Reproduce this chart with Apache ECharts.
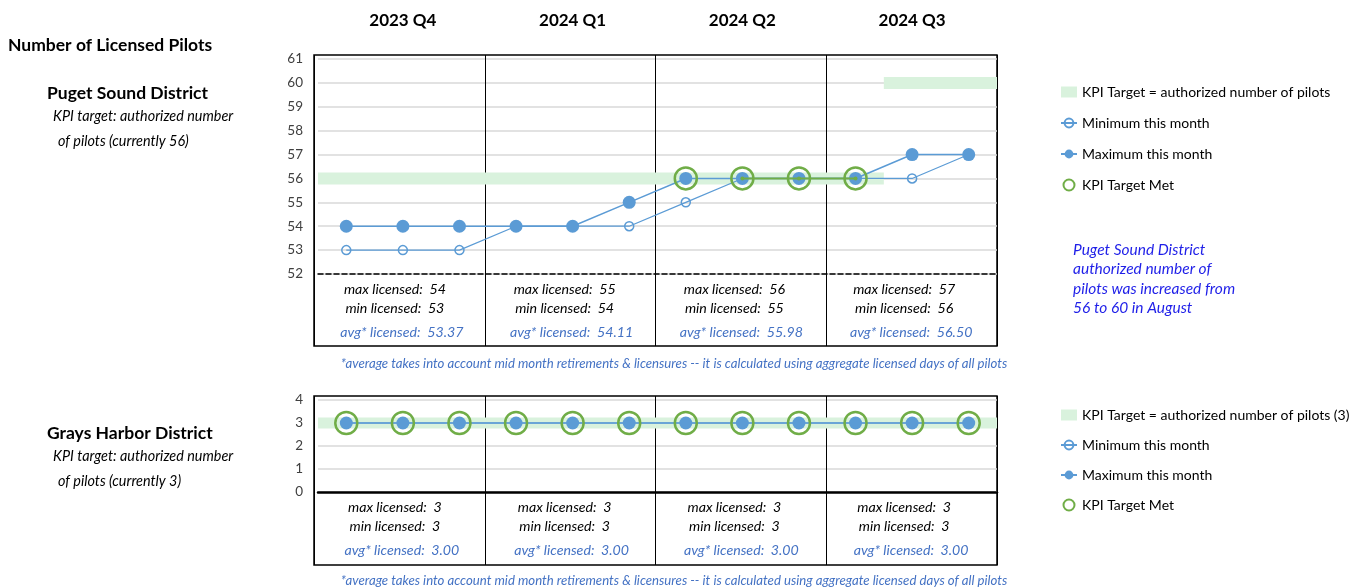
<!DOCTYPE html>
<html><head><meta charset="utf-8">
<script src="https://cdn.jsdelivr.net/npm/echarts@6/dist/echarts.min.js"></script>
<style>html,body{margin:0;padding:0;background:#fff}#c{width:1354px;height:588px}</style>
</head><body><div id="c"></div>
<script>
// ---------- DATA ----------
const months = ['Oct','Nov','Dec','Jan','Feb','Mar','Apr','May','Jun','Jul','Aug','Sep'];
const quarters = ['2023 Q4','2024 Q1','2024 Q2','2024 Q3'];

// Puget Sound District
const psMin = [53,53,53,54,54,54,55,56,56,56,56,57];
const psMax = [54,54,54,54,54,55,56,56,56,56,57,57];
const psTarget = [56,56,56,56,56,56,56,56,56,56,60,60];
const psMet = [null,null,null,null,null,null,56,56,56,56,null,null];
const psMetLine = [null,null,null,null,null,null,null,56,56,56,null,null];
const psQMax = [54,55,56,57];
const psQMin = [53,54,55,56];
const psQAvg = ['53.37','54.11','55.98','56.50'];
const psYMin = 52, psYMax = 61;

// Grays Harbor District
const ghMin = [3,3,3,3,3,3,3,3,3,3,3,3];
const ghMax = [3,3,3,3,3,3,3,3,3,3,3,3];
const ghTarget = [3,3,3,3,3,3,3,3,3,3,3,3];
const ghMet = [3,3,3,3,3,3,3,3,3,3,3,3];
const ghQMax = [3,3,3,3];
const ghQMin = [3,3,3,3];
const ghQAvg = ['3.00','3.00','3.00','3.00'];
const ghYMin = 0, ghYMax = 4;

// ---------- STYLE ----------
const FONT = 'Lato, "Open Sans", sans-serif';
const BLUE = '#5b9bd5';
const GREEN = '#70ad47';
const BAND = '#d9f2dd';
const AVG = '#4472c4';
const GRID = '#d9d9d9';
const NOFILL = 'rgba(255,255,255,0)';

const pts = arr => arr.map((v, i) => [i + 0.5, v == null ? '-' : v]);
const bandPts = arr => {
  const out = [];
  arr.forEach((v, i) => {
    if (i > 0 && v !== arr[i - 1]) out.push([i, '-']);
    out.push([i, v], [i + 1, v]);
  });
  return out;
};

const summaryFmt = (qMax, qMin, qAvg) => (val, idx) =>
  `{m|max licensed:  ${qMax[idx]}}\n{m|min licensed:  ${qMin[idx]}}\n{a|avg* licensed:  ${qAvg[idx]}}`;
const summaryRich = {
  m: {fontStyle:'italic', fontSize:14.2, color:'#000', lineHeight:19, fontFamily:FONT, padding:[0,16,0,0]},
  a: {fontStyle:'italic', fontSize:14.2, color:AVG, lineHeight:29, fontFamily:FONT, padding:[0,2,0,0]}
};

const PL = 318, PW = 679, FL = 314, FW = 683;
const legendText = {fontSize:14, color:'#000', fontFamily:FONT};
const footnote = '*average takes into account mid month retirements & licensures -- it is calculated using aggregate licensed days of all pilots';

const option = {
  animation:false,
  backgroundColor:'#fff',
  textStyle:{fontFamily:FONT},
  grid:[
    {left:PL, width:PW, top:59, height:215},
    {left:FL, width:FW, top:55, height:291, show:true, borderColor:'#000', borderWidth:1.5},
    {left:PL, width:PW, top:400, height:92},
    {left:FL, width:FW, top:396, height:169, show:true, borderColor:'#000', borderWidth:1.5}
  ],
  xAxis:[
    {gridIndex:0, type:'value', min:0, max:12, interval:1, position:'bottom',
     axisLine:{show:true, onZero:false, lineStyle:{color:'#000', width:1.5, type:[5,3]}},
     axisTick:{show:false}, axisLabel:{show:false}, splitLine:{show:false}},
    {gridIndex:0, type:'category', data:quarters, position:'bottom', boundaryGap:true,
     axisLine:{show:false, onZero:false}, axisTick:{show:false}, splitLine:{show:false},
     axisLabel:{interval:0, margin:6, verticalAlign:'top', formatter:summaryFmt(psQMax, psQMin, psQAvg), rich:summaryRich}},
    {gridIndex:0, type:'category', data:quarters, position:'top', boundaryGap:true,
     axisLine:{show:false, onZero:false}, axisTick:{show:false}, splitLine:{show:false},
     axisLabel:{interval:0, margin:30, fontSize:17, fontWeight:'bold', color:'#000', fontFamily:FONT}},
    {gridIndex:1, type:'value', min:0, max:12, interval:3,
     axisLine:{show:false}, axisTick:{show:false}, axisLabel:{show:false},
     splitLine:{show:true, lineStyle:{color:'#000', width:1}}},
    {gridIndex:2, type:'value', min:0, max:12, interval:1, position:'bottom',
     axisLine:{show:true, onZero:false, lineStyle:{color:'#000', width:2.5}},
     axisTick:{show:false}, axisLabel:{show:false}, splitLine:{show:false}},
    {gridIndex:2, type:'category', data:quarters, position:'bottom', boundaryGap:true,
     axisLine:{show:false, onZero:false}, axisTick:{show:false}, splitLine:{show:false},
     axisLabel:{interval:0, margin:6, verticalAlign:'top', formatter:summaryFmt(ghQMax, ghQMin, ghQAvg), rich:summaryRich}},
    {gridIndex:3, type:'value', min:0, max:12, interval:3,
     axisLine:{show:false}, axisTick:{show:false}, axisLabel:{show:false},
     splitLine:{show:true, lineStyle:{color:'#000', width:1}}}
  ],
  yAxis:[
    {gridIndex:0, type:'value', min:psYMin, max:psYMax, interval:1,
     axisLine:{show:false}, axisTick:{show:false},
     axisLabel:{margin:15, fontSize:13.5, color:'#404040', fontFamily:FONT},
     splitLine:{show:true, lineStyle:{color:GRID, width:1.5}}},
    {gridIndex:1, type:'value', min:0, max:1, show:false},
    {gridIndex:2, type:'value', min:ghYMin, max:ghYMax, interval:1,
     axisLine:{show:false}, axisTick:{show:false},
     axisLabel:{margin:15, fontSize:13.5, color:'#404040', fontFamily:FONT},
     splitLine:{show:true, lineStyle:{color:GRID, width:1.5}}},
    {gridIndex:3, type:'value', min:0, max:1, show:false}
  ],
  legend:[
    {orient:'vertical', left:1060, top:85, padding:0, itemWidth:16, itemHeight:11, itemGap:17, selectedMode:false,
     textStyle:legendText,
     data:[{name:'KPI Target = authorized number of pilots', icon:'rect'}, 'Minimum this month', 'Maximum this month', {name:'KPI Target Met', icon:'circle'}]},
    {orient:'vertical', left:1060, top:408, padding:0, itemWidth:16, itemHeight:11, itemGap:16, selectedMode:false,
     textStyle:legendText,
     data:[{name:'KPI Target = authorized number of pilots (3)', icon:'rect'}, 'Minimum this month', 'Maximum this month', {name:'KPI Target Met', icon:'circle'}]}
  ],
  graphic:[
    {type:'text', left:8, top:36, style:{text:'Number of Licensed Pilots', font:'bold 17.5px '+FONT, fill:'#000'}},
    {type:'text', left:47, top:84, style:{text:'Puget Sound District', font:'bold 17.5px '+FONT, fill:'#000'}},
    {type:'text', left:53, top:109, style:{text:'KPI target: authorized number', font:'italic 14.4px '+FONT, fill:'#000'}},
    {type:'text', left:58, top:134, style:{text:'of pilots (currently 56)', font:'italic 14.4px '+FONT, fill:'#000'}},
    {type:'text', left:47, top:424, style:{text:'Grays Harbor District', font:'bold 17.5px '+FONT, fill:'#000'}},
    {type:'text', left:53, top:449, style:{text:'KPI target: authorized number', font:'italic 14.4px '+FONT, fill:'#000'}},
    {type:'text', left:58, top:474, style:{text:'of pilots (currently 3)', font:'italic 14.4px '+FONT, fill:'#000'}},
    {type:'text', left:1073, top:240, style:{text:'Puget Sound District\nauthorized number of\npilots was increased from\n56 to 60 in August', font:'italic 15.5px '+FONT, lineHeight:19.5, fill:'#1f1fe8'}},
    {type:'text', x:674, y:364, style:{text:footnote, font:'italic 13.2px '+FONT, fill:AVG, align:'center', verticalAlign:'middle'}},
    {type:'text', x:674, y:581, style:{text:footnote, font:'italic 13.2px '+FONT, fill:AVG, align:'center', verticalAlign:'middle'}}
  ],
  series:[
    // Puget Sound
    {name:'KPI Target = authorized number of pilots', type:'line', xAxisIndex:0, yAxisIndex:0, data:bandPts(psTarget),
     symbol:'none', color:BAND, itemStyle:{color:BAND}, lineStyle:{width:12, color:BAND, cap:'butt'}, silent:true, z:1},
    {name:'Minimum this month', type:'line', xAxisIndex:0, yAxisIndex:0, data:pts(psMin),
     symbol:'circle', symbolSize:9, itemStyle:{color:NOFILL, borderColor:BLUE, borderWidth:1.5},
     lineStyle:{width:1.2, color:BLUE}, z:2},
    {name:'Maximum this month', type:'line', xAxisIndex:0, yAxisIndex:0, data:pts(psMax),
     symbol:'circle', symbolSize:13, itemStyle:{color:BLUE}, lineStyle:{width:1.5, color:BLUE}, z:3},
    {name:'KPI Target Met', type:'line', xAxisIndex:0, yAxisIndex:0, data:pts(psMet),
     symbol:'circle', symbolSize:22, itemStyle:{color:NOFILL, borderColor:GREEN, borderWidth:2.5},
     lineStyle:{width:0, opacity:0}, z:4},
    {name:'KPI met link', type:'line', xAxisIndex:0, yAxisIndex:0, data:pts(psMetLine),
     symbol:'circle', symbolSize:4, itemStyle:{color:GREEN}, lineStyle:{width:2, color:GREEN}, z:5},
    // Grays Harbor
    {name:'KPI Target = authorized number of pilots (3)', type:'line', xAxisIndex:4, yAxisIndex:2, data:bandPts(ghTarget),
     symbol:'none', color:BAND, itemStyle:{color:BAND}, lineStyle:{width:11, color:BAND, cap:'butt'}, silent:true, z:1},
    {name:'Minimum this month', type:'line', xAxisIndex:4, yAxisIndex:2, data:pts(ghMin),
     symbol:'circle', symbolSize:9, itemStyle:{color:NOFILL, borderColor:BLUE, borderWidth:1.5},
     lineStyle:{width:1.2, color:BLUE}, z:2},
    {name:'Maximum this month', type:'line', xAxisIndex:4, yAxisIndex:2, data:pts(ghMax),
     symbol:'circle', symbolSize:13, itemStyle:{color:BLUE}, lineStyle:{width:1.5, color:BLUE}, z:3},
    {name:'KPI Target Met', type:'line', xAxisIndex:4, yAxisIndex:2, data:pts(ghMet),
     symbol:'circle', symbolSize:22, itemStyle:{color:NOFILL, borderColor:GREEN, borderWidth:2.5},
     lineStyle:{width:0, opacity:0}, z:4}
  ]
};
echarts.init(document.getElementById('c'), null, {renderer:'canvas'}).setOption(option);
</script></body></html>
